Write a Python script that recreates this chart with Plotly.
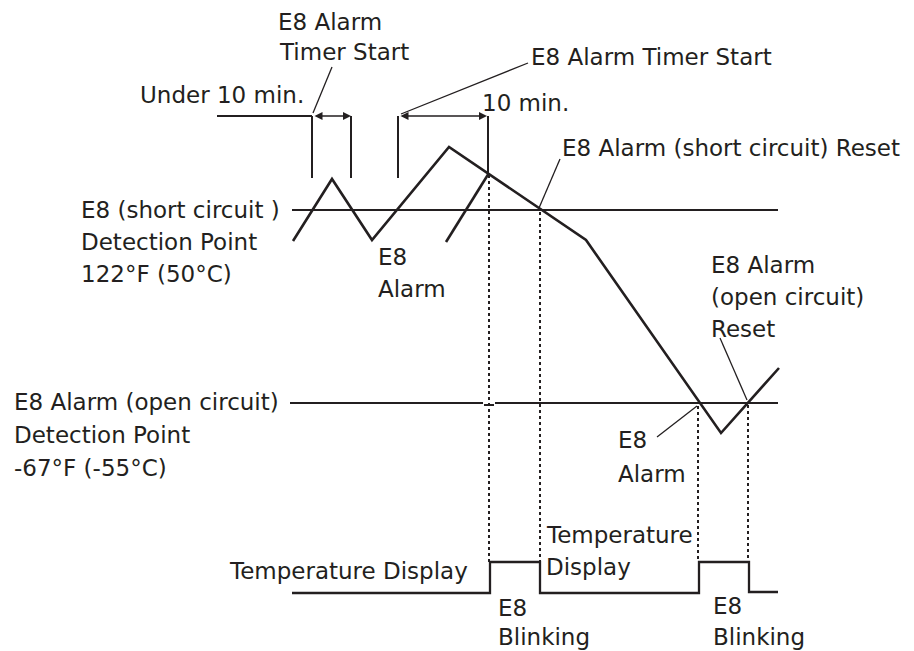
import plotly.graph_objects as go

INK = "#231f20"
FONT = "DejaVu Sans"
FS = 23

# ---- diagram data (diagram units: t = time axis, v = temperature axis, px-like) ----
# Temperature curve
curve_t = [293, 332, 372, 449, 586, 721, 779]
curve_v = [241, 179, 240, 147, 240, 433, 368]
# Second rise (E8 alarm)
rise_t = [446, 489]
rise_v = [242, 173]
# Detection thresholds
short_t = [292, 778]
short_v = [210, 210]
open_t = [290, 483, None, 484, 494, None, 495, 778]
open_v = [403, 403, None, 405, 405, None, 403, 403]
# Display state (low = temperature display, high = E8 blinking)
disp_t = [292, 490, 490, 540, 540, 699, 699, 749, 749, 778]
disp_v = [593, 593, 562, 562, 593, 593, 562, 562, 592, 592]
# Timer marks
mark_t = [312, 351, 398, 488]
mark_top = [116, 116, 116, 116]
mark_bot = [178, 178, 178, 173]
base_t = [217, 312]
base_v = [116, 116]
# Timer spans (double arrows)
span_start = [313, 399]
span_end = [351, 487]
span_v = [116, 116]
# Dotted projections
dot_t = [489, 540, 698, 748]
dot_top = [175, 212, 406, 405]
dot_bot = [562, 562, 562, 562]
# Leader lines (from, to)
lead_t0 = [313, 401, 539, 747, 697]
lead_v0 = [113, 114, 208, 400, 406]
lead_t1 = [332, 528, 560, 720, 657]
lead_v1 = [67, 63, 159, 338, 437]

# Labels: text, left t, centre v
labels = [
    ("E8 Alarm", 277, 22),
    ("Timer Start", 278, 52),
    ("Under 10 min.", 139, 95),
    ("E8 Alarm Timer Start", 530, 57),
    ("10 min.", 481, 103),
    ("E8 Alarm (short circuit) Reset", 561, 148),
    ("E8 (short circuit )", 80, 210),
    ("Detection Point", 80, 242),
    ("122°F (50°C)", 80, 274),
    ("E8", 377, 257),
    ("Alarm", 377, 289),
    ("E8 Alarm", 710, 265),
    ("(open circuit)", 710, 297),
    ("Reset", 710, 329),
    ("E8 Alarm (open circuit)", 13, 402),
    ("Detection Point", 13, 435),
    ("-67°F (-55°C)", 13, 468),
    ("E8", 617, 440),
    ("Alarm", 617, 474),
    ("Temperature", 545, 535),
    ("Display", 545, 567),
    ("Temperature Display", 228, 571),
    ("E8", 497, 608),
    ("Blinking", 497, 637),
    ("E8", 712, 606),
    ("Blinking", 712, 637),
]
# clipped line of text above the top edge (only a descender shows)
top_clip = ("g", 377, 8)

fig = go.Figure()

def add_line(x, y, width, dash="solid"):
    fig.add_trace(go.Scatter(x=x, y=y, mode="lines", hoverinfo="skip",
                             line=dict(color=INK, width=width, dash=dash)))

add_line(short_t, short_v, 2)
add_line(open_t, open_v, 2)
add_line(curve_t, curve_v, 2.6)
add_line(rise_t, rise_v, 2.6)
add_line(disp_t, disp_v, 2.3)
add_line(base_t, base_v, 2)

mx, my = [], []
for t, a, b in zip(mark_t, mark_top, mark_bot):
    mx += [t, t, None]
    my += [a, b, None]
add_line(mx, my, 2)

dx, dy = [], []
for t, a, b in zip(dot_t, dot_top, dot_bot):
    dx += [t, t, None]
    dy += [a, b, None]
add_line(dx, dy, 2, "dot")

lx, ly = [], []
for a, b, c, d in zip(lead_t0, lead_v0, lead_t1, lead_v1):
    lx += [a, c, None]
    ly += [b, d, None]
add_line(lx, ly, 1.3)

annotations = []
for s, e, v in zip(span_start, span_end, span_v):
    annotations.append(dict(x=e, y=v, ax=s, ay=v, xref="x", yref="y", axref="x", ayref="y",
                            showarrow=True, arrowhead=2, arrowside="end+start", arrowsize=1,
                            arrowwidth=1.6, arrowcolor=INK, text=""))
for txt, t, v in labels:
    annotations.append(dict(x=t, y=v, xref="x", yref="y", text=txt, showarrow=False,
                            xanchor="left", yanchor="middle", borderpad=0,
                            font=dict(family=FONT, size=FS, color=INK)))
annotations.append(dict(x=top_clip[1], y=top_clip[2], xref="x", yref="y", text=top_clip[0],
                        showarrow=False, xanchor="left", yanchor="bottom", borderpad=0,
                        font=dict(family=FONT, size=FS, color=INK)))

# page body has an 8px margin, so the view window starts 8 units in
OFF = 8
fig.update_layout(
    width=914, height=651, autosize=False,
    margin=dict(l=0, r=0, t=0, b=0),
    paper_bgcolor="white", plot_bgcolor="white",
    showlegend=False,
    xaxis=dict(range=[OFF, 914 + OFF], visible=False, fixedrange=True),
    yaxis=dict(range=[651 + OFF, OFF], visible=False, fixedrange=True),
    annotations=annotations,
)

fig.write_html("out.html")
